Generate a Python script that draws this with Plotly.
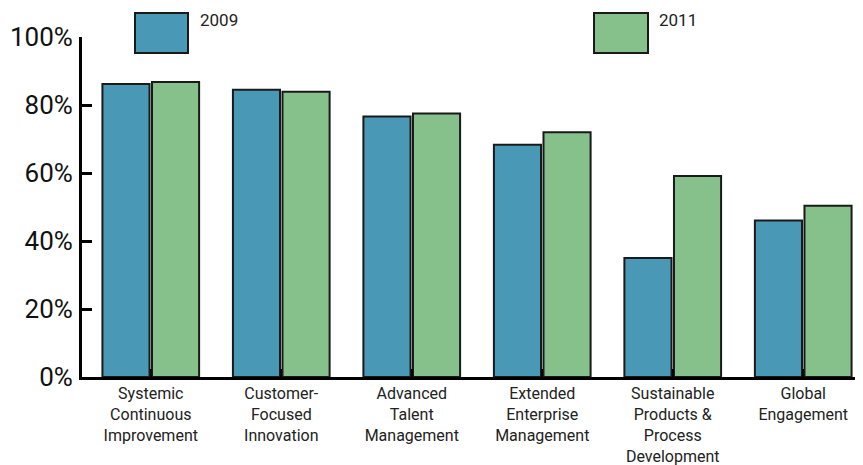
import plotly.graph_objects as go

categories = [
    "Systemic<br>Continuous<br>Improvement",
    "Customer-<br>Focused<br>Innovation",
    "Advanced<br>Talent<br>Management",
    "Extended<br>Enterprise<br>Management",
    "Sustainable<br>Products &<br>Process<br>Development",
    "Global<br>Engagement",
]
series_names = ["2009", "2011"]
values_2009 = [86.2, 84.5, 76.6, 68.3, 35.0, 46.0]
values_2011 = [86.8, 83.9, 77.5, 72.0, 59.1, 50.4]
y_tick_vals = [0, 20, 40, 60, 80, 100]
y_tick_text = ["0%", "20%", "40%", "60%", "80%", "100%"]

BLUE = "#4898b6"
GREEN = "#86c08a"
W, H = 863, 465
OFF = 8  # page body margin offset
# target plot area in screen pixels: x 82..863, y 37..377
L, T = 82 - OFF, 37 - OFF
R = W - (863 - OFF)
B = H - (377 - OFF)

fig = go.Figure()
fig.add_trace(go.Bar(x=list(range(len(categories))), y=values_2009, name=series_names[0],
                     marker=dict(color=BLUE, line=dict(color="#1a1a1a", width=2))))
fig.add_trace(go.Bar(x=list(range(len(categories))), y=values_2011, name=series_names[1],
                     marker=dict(color=GREEN, line=dict(color="#1a1a1a", width=2))))

pw = 863 - 82
ph = 377 - 37
def px(p):
    return (p - 82) / pw
def py(p):
    return (377 - p) / ph

shapes = []
annotations = []
for (x0, x1, col, tx, name) in [(135, 188, BLUE, 198, series_names[0]), (594, 648, GREEN, 657, series_names[1])]:
    shapes.append(dict(type="rect", xref="paper", yref="paper", x0=px(x0), x1=px(x1),
                       y0=py(53), y1=py(13), fillcolor=col, line=dict(color="#1a1a1a", width=2)))
    annotations.append(dict(xref="paper", yref="paper", x=px(tx), y=py(8), xanchor="left", yanchor="top",
                            text=name, showarrow=False, font=dict(family="Roboto", size=17, color="#222")))

fig.update_layout(
    width=W, height=H,
    margin=dict(l=L, r=R, t=T, b=B, pad=0, autoexpand=False),
    paper_bgcolor="white", plot_bgcolor="white",
    barmode="group", bargap=0.24, bargroupgap=0.05,
    showlegend=False,
    shapes=shapes, annotations=annotations,
    xaxis=dict(
        range=[-0.527, 5.458], tickmode="array", tickvals=list(range(len(categories))),
        ticktext=categories, tickson="boundaries", ticks="inside", ticklen=8, tickwidth=2,
        tickcolor="black", showline=True, linecolor="black", linewidth=3, showgrid=False,
        zeroline=False, tickfont=dict(family="Roboto", size=16, color="#222"), tickangle=0,
        fixedrange=True, automargin=False,
    ),
    yaxis=dict(
        range=[0, 100], tickmode="array", tickvals=y_tick_vals, ticktext=y_tick_text,
        ticks="inside", ticklen=10, tickwidth=3, tickcolor="black", showline=True,
        linecolor="black", linewidth=3, showgrid=False, zeroline=False,
        tickfont=dict(family="Roboto", size=26, color="#111"), ticklabelstandoff=1,
        automargin=False,
    ),
)

fig.write_html("out.html")
